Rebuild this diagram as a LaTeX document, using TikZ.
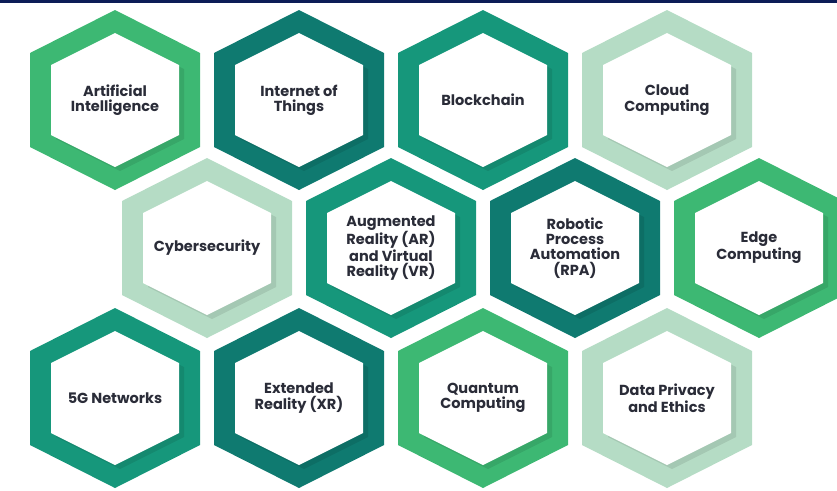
\documentclass[tikz,border=0pt]{standalone}
\usepackage{fontspec}
\setmainfont{Poppins}
\usepackage{tikz}

\definecolor{leafgreen}{HTML}{3DB873}
\definecolor{seagreen}{HTML}{16977B}
\definecolor{deepteal}{HTML}{0F7A70}
\definecolor{palegreen}{HTML}{B5DCC5}
\definecolor{navybar}{HTML}{0C1D57}
\definecolor{labelink}{HTML}{2A2C38}

\begin{document}
\begin{tikzpicture}
	[x=0.03cm, y=-0.03cm,
	 ring/.style={fill=#1},
	 hole/.style={fill=white},
	 drop/.style={fill=black, opacity=0.09},
	 topic/.style={text=labelink, font=\fontsize{12.4}{13}\selectfont\bfseries, align=center}]
   \useasboundingbox (0,0) rectangle (837,490);
   \fill[navybar] (0,0) rectangle (837,2.5);
   % honeycomb, three rows
   \foreach \n/\x/\y/\c/\t in {
   		ai/115/100/leafgreen/{Artificial\\Intelligence},
   		iot/299/100/deepteal/{Internet of\\Things},
   		chain/483/100/seagreen/{Blockchain},
   		cloud/667/100/palegreen/{Cloud\\Computing},
   		cyber/207/248/palegreen/{Cybersecurity},
   		arvr/391/248/seagreen/{Augmented\\Reality (AR)\\and Virtual\\Reality (VR)},
   		rpa/575/248/deepteal/{Robotic\\Process\\Automation\\(RPA)},
   		edge/759/248/leafgreen/{Edge\\Computing},
   		fiveg/115/398/seagreen/{5G Networks},
   		xr/299/398/deepteal/{Extended\\Reality (XR)},
   		quantum/483/398/leafgreen/{Quantum\\Computing},
   		ethics/667/398/palegreen/{Data Privacy\\and Ethics}}
   {
   	\fill[ring=\c] (\x,\y) ++(0,-90) -- ++(85,43) -- ++(0,94) -- ++(-85,43) -- ++(-85,-43) -- ++(0,-94) -- cycle;
   	\fill[drop] (\x+5,\y+4) ++(0,-67) -- ++(64,32) -- ++(0,70) -- ++(-64,32) -- ++(-64,-32) -- ++(0,-70) -- cycle;
   	\fill[hole] (\x,\y) ++(0,-67) -- ++(64,32) -- ++(0,70) -- ++(-64,32) -- ++(-64,-32) -- ++(0,-70) -- cycle;
   	\node[topic] (\n) at (\x,\y) {\t};
   }
\end{tikzpicture}
\end{document}
